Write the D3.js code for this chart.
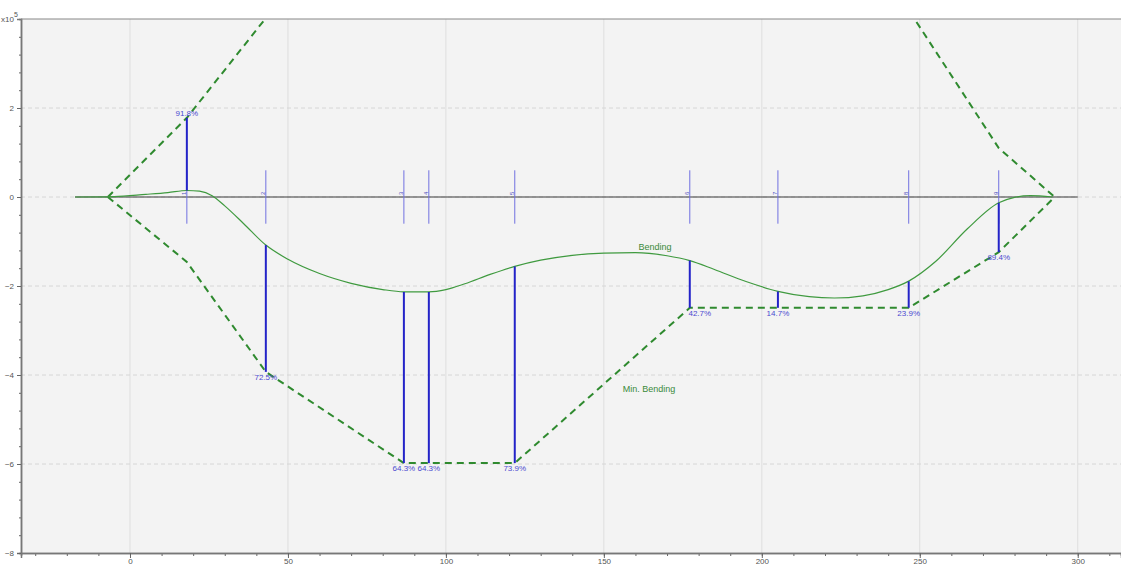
<!DOCTYPE html>
<html>
<head>
<meta charset="utf-8">
<script src="https://cdn.jsdelivr.net/npm/d3@7"></script>
<style>
  html, body { margin: 0; padding: 0; background: #ffffff; }
  svg { display: block; }
  text { font-family: "Liberation Sans", Arial, sans-serif; }
</style>
</head>
<body>
<svg id="chart" width="1121" height="568"></svg>
<script>
// Bending moment along the girder (x in m, values in 1e5 units)
const bendX = [-17.4, -5, 5, 12, 18, 22, 26, 30, 36, 43, 50, 60, 70, 80, 86.7, 94.6, 100, 106, 114, 121.8,
               130, 140, 150, 160, 170, 177.2, 185, 195, 205.1, 215, 223, 232, 240, 246.5, 255, 265, 275, 280, 285, 292];
const bendY = [0, 0.01, 0.06, 0.1, 0.146, 0.13, 0.03, -0.2, -0.6, -1.08, -1.4, -1.72, -1.94, -2.08, -2.13, -2.13, -2.08, -1.95, -1.74, -1.56,
               -1.42, -1.31, -1.26, -1.25, -1.32, -1.43, -1.63, -1.9, -2.12, -2.24, -2.27, -2.22, -2.08, -1.89, -1.45, -0.72, -0.13, -0.01, 0.03, 0];

// Minimum bending envelope, upper and lower branches
const envLowerX = [-7, 18, 43, 86.7, 121.8, 177.2, 246.5, 275, 292.7];
const envLowerY = [0, -1.46, -3.93, -5.98, -5.98, -2.49, -2.49, -1.24, 0];
const envUpperX = [-7, 18, 45, 246.5, 275, 292.7];
const envUpperY = [0, 1.78, 4.2, 4.2, 1.1, 0];

// Supports: position, governing envelope value, utilisation label
const supportX = [18, 43, 86.7, 94.6, 121.8, 177.2, 205.1, 246.5, 275];
const supportEnv = [1.78, -3.93, -5.98, -5.98, -5.98, -2.49, -2.49, -2.49, -1.24];
const supportPct = [91.8, 72.5, 64.3, 64.3, 73.9, 42.7, 14.7, 23.9, 89.4];
const supportNames = ["1", "2", "3", "4", "5", "6", "7", "8", "9"];

const xMajor = [0, 50, 100, 150, 200, 250, 300];
const yMajor = [4, 2, 0, -2, -4, -6, -8];

const svg = d3.select("#chart");
const L = 21, R = 1121, T = 19, B = 553;
const x = d3.scaleLinear().domain([-34.5, 313.7]).range([L, R]);
const y = d3.scaleLinear().domain([-8, 4]).range([B, T]);

svg.append("defs").append("clipPath").attr("id", "plot")
  .append("rect").attr("x", L).attr("y", T).attr("width", R - L).attr("height", B - T);

// plot background
svg.append("rect").attr("x", L).attr("y", T).attr("width", R - L).attr("height", B - T).attr("fill", "#f3f3f3");

// grid
const grid = svg.append("g");
grid.selectAll(".vg").data(xMajor).join("line")
  .attr("x1", d => x(d)).attr("x2", d => x(d)).attr("y1", T).attr("y2", B)
  .attr("stroke", "#dedede").attr("stroke-width", 1);
grid.selectAll(".hg").data(yMajor.filter(d => d > -8 && d < 4)).join("line")
  .attr("x1", L).attr("x2", R).attr("y1", d => y(d)).attr("y2", d => y(d))
  .attr("stroke", "#d6d6d6").attr("stroke-width", 1).attr("stroke-dasharray", "4,3");

// axes
const xAxis = d3.axisBottom(x).tickValues(xMajor).tickSize(5).tickFormat(d3.format("d"));
const xMinor = d3.axisBottom(x).tickValues(d3.range(-30, 314, 10)).tickSize(3).tickFormat("");
const yAxis = d3.axisLeft(y).tickValues(yMajor.filter(d => d < 4)).tickSize(4).tickFormat(d3.format("d"));
const yMinor = d3.axisLeft(y).tickValues(d3.range(-8, 4.01, 0.4)).tickSize(2).tickFormat("");

function styleAxis(g) {
  g.select(".domain").attr("stroke", "#777").attr("stroke-width", 1.5);
  g.selectAll(".tick line").attr("stroke", "#666");
  g.selectAll(".tick text").attr("fill", "#555").attr("font-size", 8);
}
svg.append("g").attr("transform", `translate(0,${B})`).call(xMinor).call(styleAxis);
svg.append("g").attr("transform", `translate(0,${B})`).call(xAxis).call(styleAxis)
  .selectAll(".tick text").attr("y", 5).attr("dy", "0.71em");
svg.append("g").attr("transform", `translate(${L},0)`).call(yMinor).call(styleAxis);
svg.append("g").attr("transform", `translate(${L},0)`).call(yAxis).call(styleAxis);

// top border
svg.append("line").attr("x1", L).attr("x2", R).attr("y1", T).attr("y2", T)
  .attr("stroke", "#888").attr("stroke-width", 1.2);

// exponent label
const ex = svg.append("text").attr("x", 1).attr("y", T + 3).attr("font-size", 8).attr("fill", "#555");
ex.append("tspan").text("x10");
ex.append("tspan").attr("dy", -5).attr("font-size", 7).text("5");

const plot = svg.append("g").attr("clip-path", "url(#plot)");

// girder axis
plot.append("line").attr("x1", x(-17.4)).attr("x2", x(300)).attr("y1", y(0)).attr("y2", y(0))
  .attr("stroke", "#3a3a3a").attr("stroke-width", 1.2);

// support markers
plot.selectAll(".sup").data(supportX).join("line")
  .attr("x1", d => x(d)).attr("x2", d => x(d)).attr("y1", y(0.6)).attr("y2", y(-0.6))
  .attr("stroke", "#7070e0").attr("stroke-width", 1);
plot.selectAll(".supname").data(supportX).join("text")
  .attr("transform", d => `translate(${x(d) - 1},${y(0) - 2}) rotate(-90)`)
  .attr("font-size", 6).attr("fill", "#5050c0")
  .text((d, i) => supportNames[i]);

// envelope
const envLine = d3.line().x(d => x(d[0])).y(d => y(d[1]));
[[envLowerX, envLowerY], [envUpperX, envUpperY]].forEach(([xs, ys]) => {
  plot.append("path").datum(xs.map((v, i) => [v, ys[i]]))
    .attr("d", envLine).attr("fill", "none")
    .attr("stroke", "#2f8a2f").attr("stroke-width", 2).attr("stroke-dasharray", "7,5");
});

// bending curve
const bendLine = d3.line().x(d => x(d[0])).y(d => y(d[1])).curve(d3.curveMonotoneX);
plot.append("path").datum(bendX.map((v, i) => [v, bendY[i]]))
  .attr("d", bendLine).attr("fill", "none")
  .attr("stroke", "#3f9a3f").attr("stroke-width", 1.2);

// utilisation bars: from bending value to envelope
const bars = supportX.map((s, i) => ({
  x: s, env: supportEnv[i], pct: supportPct[i],
  bend: supportEnv[i] * (1 - supportPct[i] / 100)
}));
plot.selectAll(".bar").data(bars).join("line")
  .attr("x1", d => x(d.x)).attr("x2", d => x(d.x))
  .attr("y1", d => y(d.bend)).attr("y2", d => y(d.env))
  .attr("stroke", "#2323c8").attr("stroke-width", 2);
plot.selectAll(".pct").data(bars).join("text")
  .attr("x", d => x(d.x) + (d.x > 170 && d.x < 180 ? 10 : 0))
  .attr("y", d => d.env > 0 ? y(d.env) - 2 : y(d.env) + 8)
  .attr("text-anchor", "middle").attr("font-size", 8).attr("fill", "#4a4ad0")
  .text(d => d.pct.toFixed(1) + "%");

// series labels
plot.append("text").attr("x", x(161)).attr("y", y(-1.2))
  .attr("font-family", "Liberation Serif, serif").attr("font-size", 9).attr("fill", "#3a8a3a")
  .text("Bending");
plot.append("text").attr("x", x(156)).attr("y", y(-4.38))
  .attr("font-family", "Liberation Serif, serif").attr("font-size", 9).attr("fill", "#3a8a3a")
  .text("Min. Bending");
</script>
</body>
</html>
